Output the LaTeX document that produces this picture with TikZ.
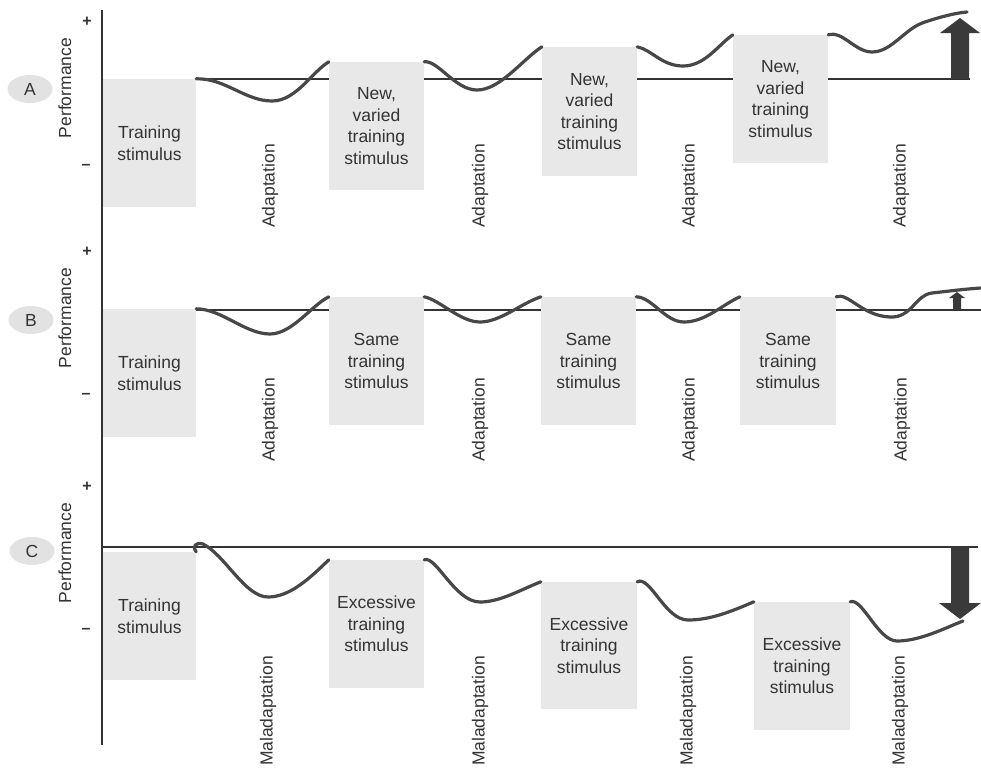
\documentclass[tikz,border=0pt]{standalone}
\usepackage{fontspec}
\setmainfont{Liberation Sans}
\usetikzlibrary{shapes.geometric}
\definecolor{ink}{HTML}{333333}
\definecolor{wavecol}{HTML}{474747}
\definecolor{boxfill}{HTML}{E8E8E8}
\definecolor{tagfill}{HTML}{E2E2E2}
\definecolor{arrowfill}{HTML}{3A3A3A}
\begin{document}
\begin{tikzpicture}[x=1pt,y=-1pt,
  txt/.style={text=ink, font=\fontsize{17.5}{21.5}\selectfont, inner sep=0pt},
  stimbox/.style={txt, fill=boxfill, draw=none, align=center, minimum width=95pt, minimum height=128pt},
  vlab/.style={txt, rotate=90},
  tag/.style={txt, ellipse, fill=tagfill, minimum width=45pt, minimum height=28pt},
  sign/.style={text=ink, font=\fontsize{16}{16}\selectfont\bfseries, inner sep=0pt},
  baseline/.style={draw=ink, line width=1.8pt},
  wave/.style={draw=wavecol, line width=3.2pt, line cap=round},
  bigarrow/.style={fill=arrowfill, draw=none}]
\useasboundingbox (0,0) rectangle (981,769);

% axis
\coordinate (axtop) at (102,10);
\coordinate (axbot) at (102,745);
\draw[baseline] (axtop) -- (axbot);

% ---------- Panel A ----------
\node[tag] (tA) at (30,89) {A};
\node[vlab] (pA) at (65,88) {Performance};
\node[sign] (plA) at (87,22) {+};
\node[sign] (miA) at (86,167) {–};
\coordinate (blA1) at (197,79);
\coordinate (blA2) at (970,79);
\draw[baseline] (blA1) -- (blA2);
\node[stimbox, minimum width=93pt] (a1) at (149.5,143) {Training\\stimulus};
\node[stimbox] (a2) at (376.5,126) {New,\\varied\\training\\stimulus};
\node[stimbox, minimum height=129pt] (a3) at (589.5,111.5) {New,\\varied\\training\\stimulus};
\node[stimbox] (a4) at (780.5,99) {New,\\varied\\training\\stimulus};
\node[vlab] (adA1) at (270,186) {Adaptation};
\node[vlab] (adA2) at (480,186) {Adaptation};
\node[vlab] (adA3) at (690,186) {Adaptation};
\node[vlab] (adA4) at (901,186) {Adaptation};
\coordinate (eA) at (967,12);
\draw[wave] (a1.north east) .. controls (225,78) and (245,101) .. (272,101)
  .. controls (296,101) and (312,72) .. (a2.north west);
\draw[wave] (a2.north east) .. controls (438,60) and (455,90) .. (477,90)
  .. controls (500,90) and (522,60) .. (a3.north west);
\draw[wave] (a3.north east) .. controls (652,50) and (662,66) .. (683,66)
  .. controls (705,66) and (718,45) .. (a4.north west);
\draw[wave] (a4.north east) .. controls (842,30) and (855,52) .. (872,52)
  .. controls (892,52) and (905,28) .. (925,22)
  .. controls (940,17) and (955,13) .. (eA);
\fill[bigarrow] (951,79) -- (951,33) -- (940,33) -- (960,18) -- (980,33) -- (969,33) -- (969,79) -- cycle;

% ---------- Panel B ----------
\node[tag] (tB) at (31,320) {B};
\node[vlab] (pB) at (65,318) {Performance};
\node[sign] (plB) at (87,252) {+};
\node[sign] (miB) at (86,396) {–};
\coordinate (blB1) at (196,310);
\coordinate (blB2) at (981,310);
\draw[baseline] (blB1) -- (blB2);
\node[stimbox, minimum width=93pt] (b1) at (149.5,373) {Training\\stimulus};
\node[stimbox] (b2) at (376.5,361) {Same\\training\\stimulus};
\node[stimbox] (b3) at (588.5,361) {Same\\training\\stimulus};
\node[stimbox, minimum width=96pt] (b4) at (788,361) {Same\\training\\stimulus};
\node[vlab] (adB1) at (270,420) {Adaptation};
\node[vlab] (adB2) at (480,420) {Adaptation};
\node[vlab] (adB3) at (690,420) {Adaptation};
\node[vlab] (adB4) at (902,420) {Adaptation};
\coordinate (eB) at (981,288);
\draw[wave] (b1.north east) .. controls (222,309) and (245,334) .. (270,334)
  .. controls (292,334) and (312,305) .. (b2.north west);
\draw[wave] (b2.north east) .. controls (440,300) and (460,322) .. (480,322)
  .. controls (500,322) and (520,304) .. (b3.north west);
\draw[wave] (b3.north east) .. controls (652,297) and (665,322) .. (684,322)
  .. controls (705,322) and (722,305) .. (b4.north west);
\draw[wave] (b4.north east) .. controls (848,292) and (862,316) .. (890,317)
  .. controls (912,318) and (915,295) .. (932,293)
  .. controls (950,291) and (965,289) .. (eB);
\fill[bigarrow] (953,310) -- (953,298) -- (949,298) -- (957,292) -- (965,298) -- (961,298) -- (961,310) -- cycle;

% ---------- Panel C ----------
\node[tag] (tC) at (32,551) {C};
\node[vlab] (pC) at (65,553) {Performance};
\node[sign] (plC) at (87,487) {+};
\node[sign] (miC) at (86,631) {–};
\coordinate (blC2) at (978,547);
\draw[baseline] (102,547) -- (blC2);
\node[stimbox, minimum width=93pt] (c1) at (149.5,616) {Training\\stimulus};
\node[stimbox] (c2) at (376.5,624) {Excessive\\training\\stimulus};
\node[stimbox, minimum width=96pt, minimum height=127pt] (c3) at (589,645.5) {Excessive\\training\\stimulus};
\node[stimbox, minimum width=96pt] (c4) at (802,666) {Excessive\\training\\stimulus};
\node[vlab] (mdC1) at (268,711) {Maladaptation};
\node[vlab] (mdC2) at (480,711) {Maladaptation};
\node[vlab] (mdC3) at (688,711) {Maladaptation};
\node[vlab] (mdC4) at (900,711) {Maladaptation};
\coordinate (eC) at (963,621);
\draw[wave] (c1.north east) .. controls (192,546) and (196,542) .. (203,544)
  .. controls (225,555) and (245,597) .. (268,597)
  .. controls (290,597) and (310,578) .. (c2.north west);
\draw[wave] (c2.north east) .. controls (436,555) and (455,602) .. (480,602)
  .. controls (500,602) and (520,590) .. (c3.north west);
\draw[wave] (c3.north east) .. controls (650,575) and (665,620) .. (688,620)
  .. controls (710,620) and (730,612) .. (c4.north west);
\draw[wave] (c4.north east) .. controls (862,597) and (878,641) .. (897,641)
  .. controls (920,641) and (945,628) .. (eC);
\fill[bigarrow] (951,547) -- (951,603) -- (939,603) -- (960,619) -- (981,603) -- (969,603) -- (969,547) -- cycle;
\end{tikzpicture}
\end{document}
